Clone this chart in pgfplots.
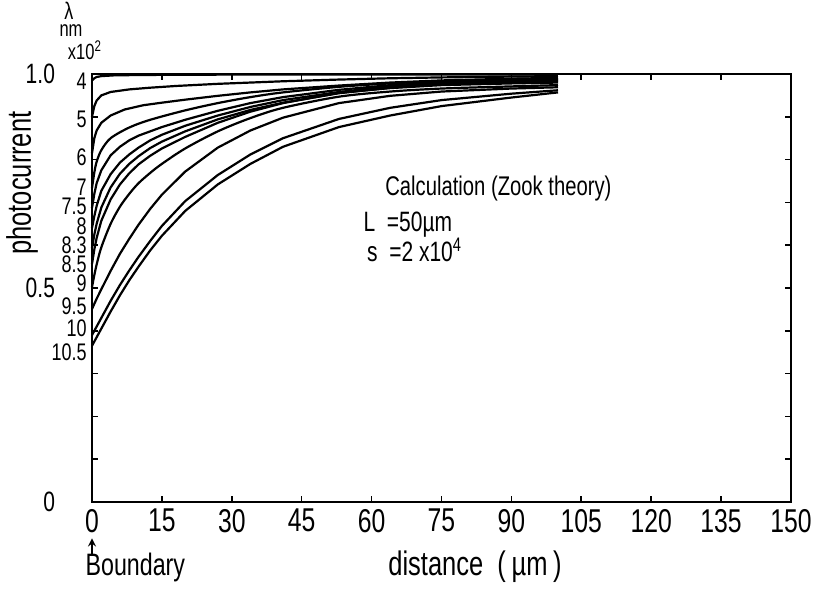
\documentclass[border=0pt]{standalone}
\usepackage{fontspec}
\setmainfont{Liberation Sans}[FakeStretch=0.75]
\usepackage{pgfplots}
\pgfplotsset{compat=1.18}
\tikzset{lam/.style={anchor=east, inner sep=0pt, xshift=-2.5pt, font=\fontsize{12}{12}\selectfont}}
\begin{document}
\begin{tikzpicture}
\begin{axis}[
  at={(0,0)}, anchor=south west,
  scale only axis, width=349.5pt, height=214pt,
  xmin=0, xmax=150, ymin=0, ymax=1,
  xtick={0,15,...,150},
  ytick={0,0.5,1}, yticklabels={0,0.5,1.0},
  minor y tick num=4,
  tick align=inside,
  axis line style={line width=1.2pt},
  major tick length=3pt, minor tick length=3pt,
  every tick/.style={black, line width=0.8pt},
  /pgf/number format/assume math mode=true,
  x tick label style={font=\fontsize{16.5}{16.5}\selectfont},
  y tick label style={font=\fontsize{14}{14}\selectfont, xshift=-15pt},
  clip=false,
  cycle list={{black, solid, mark=none, smooth, tension=0.5}},
  every axis plot post/.style={line width=1.1pt},
]
% lambda = 4
\addplot coordinates {(0,0.985)(0.5,0.99)(1,0.993)(2,0.995)(5,0.997)(15,0.998)(40,0.999)(100,0.999)};
% lambda = 5
\addplot coordinates {(0,0.90)(0.5,0.925)(1,0.938)(2,0.95)(4,0.958)(8,0.964)(12.5,0.968)(18,0.972)(27,0.977)(41,0.983)(53,0.987)(64,0.99)(75,0.992)(90,0.994)(100,0.995)};
% lambda = 6
\addplot coordinates {(0,0.815)(0.5,0.85)(1,0.868)(2,0.886)(4,0.903)(7,0.917)(11,0.927)(15,0.933)(20,0.94)(27,0.949)(34,0.957)(41,0.964)(53,0.973)(64,0.98)(75,0.985)(90,0.989)(100,0.991)};
% lambda = 7
\addplot coordinates {(0,0.733)(0.5,0.77)(1,0.795)(2,0.822)(4,0.85)(8,0.875)(12.5,0.893)(20,0.915)(27,0.932)(34,0.946)(41,0.957)(53,0.97)(64,0.978)(75,0.983)(90,0.987)(100,0.989)};
% lambda = 7.5
\addplot coordinates {(0,0.687)(0.5,0.72)(1,0.745)(2,0.775)(4,0.81)(6,0.83)(8,0.845)(10,0.856)(12.5,0.866)(15,0.876)(20,0.893)(27,0.914)(34,0.932)(41,0.946)(53,0.963)(64,0.974)(75,0.98)(90,0.985)(100,0.987)};
% lambda = 8
\addplot coordinates {(0,0.64)(0.5,0.668)(1,0.692)(2,0.727)(4,0.766)(6,0.793)(8,0.812)(10,0.828)(12.5,0.845)(15,0.858)(20,0.879)(27,0.903)(34,0.923)(41,0.939)(53,0.958)(64,0.971)(75,0.978)(90,0.983)(100,0.985)};
% lambda = 8.3
\addplot coordinates {(0,0.593)(0.5,0.625)(1,0.65)(2,0.688)(4,0.735)(6,0.767)(8,0.79)(10,0.808)(12.5,0.827)(15,0.842)(20,0.866)(27,0.894)(34,0.916)(41,0.933)(53,0.955)(64,0.968)(75,0.976)(90,0.981)(100,0.983)};
% lambda = 8.5
\addplot coordinates {(0,0.556)(0.5,0.59)(1,0.617)(2,0.657)(4,0.707)(6,0.742)(8,0.768)(10,0.789)(12.5,0.809)(15,0.826)(20,0.853)(27,0.886)(34,0.912)(41,0.932)(53,0.956)(64,0.967)(75,0.974)(90,0.978)(100,0.98)};
% lambda = 9
\addplot coordinates {(0,0.502)(0.5,0.53)(1,0.555)(2,0.595)(4,0.65)(6,0.69)(8,0.72)(10,0.745)(12.5,0.769)(15,0.79)(20,0.826)(27,0.866)(34,0.897)(41,0.921)(53,0.947)(64,0.959)(75,0.966)(90,0.971)(100,0.974)};
% lambda = 9.5
\addplot coordinates {(0,0.451)(1,0.475)(2,0.497)(4,0.54)(6,0.58)(8,0.615)(10,0.648)(12.5,0.685)(15,0.718)(20,0.772)(27,0.828)(34,0.868)(41,0.898)(53,0.932)(64,0.949)(75,0.959)(90,0.966)(100,0.969)};
% lambda = 10
\addplot coordinates {(0,0.39)(2,0.43)(4,0.47)(6,0.507)(8,0.541)(10,0.573)(12.5,0.61)(15,0.645)(20,0.703)(27,0.764)(34,0.812)(41,0.85)(53,0.895)(64,0.921)(75,0.939)(90,0.954)(100,0.962)};
% lambda = 10.5
\addplot coordinates {(0,0.365)(2,0.405)(4,0.445)(6,0.483)(8,0.518)(10,0.55)(12.5,0.588)(15,0.622)(20,0.68)(27,0.742)(34,0.79)(41,0.83)(53,0.876)(64,0.903)(75,0.925)(90,0.945)(100,0.957)};

% wavelength labels
\node[lam] at (axis cs:0,0.984) {4};
\node[lam] at (axis cs:0,0.893) {5};
\node[lam] at (axis cs:0,0.806) {6};
\node[lam] at (axis cs:0,0.736) {7};
\node[lam] at (axis cs:0,0.690) {7.5};
\node[lam] at (axis cs:0,0.645) {8};
\node[lam] at (axis cs:0,0.599) {8.3};
\node[lam] at (axis cs:0,0.555) {8.5};
\node[lam] at (axis cs:0,0.510) {9};
\node[lam] at (axis cs:0,0.458) {9.5};
\node[lam] at (axis cs:0,0.407) {10};
\node[lam] at (axis cs:0,0.350) {10.5};
% header of wavelength column
\node[font=\fontsize{12}{12}\selectfont, inner sep=0pt] at (rel axis cs:-0.033,1.148) {λ};
\node[font=\fontsize{11}{11}\selectfont, inner sep=0pt] at (rel axis cs:-0.030,1.102) {nm};
\node[font=\fontsize{11}{11}\selectfont, inner sep=0pt] at (rel axis cs:-0.010,1.055) {x10\textsuperscript{2}};
% axis titles
\node[rotate=90, font=\fontsize{17}{17}\selectfont] at (rel axis cs:-0.100,0.745) {photocurrent};
\node[font=\fontsize{17}{17}\selectfont] at (rel axis cs:0.548,-0.152) {distance \ (\,µm\,)};
\node[font=\fontsize{15.5}{15.5}\selectfont] at (rel axis cs:0.062,-0.152) {Boundary};
\draw[-stealth, line width=0.8pt] (rel axis cs:0,-0.125) -- (rel axis cs:0,-0.085);
% annotation
\node[anchor=base west, font=\fontsize{13.5}{13.5}\selectfont, inner sep=0pt] at (rel axis cs:0.419,0.715) {Calculation (Zook theory)};
\node[anchor=base west, font=\fontsize{14}{14}\selectfont, inner sep=0pt] at (rel axis cs:0.388,0.632) {L \ =50µm};
\node[anchor=base west, font=\fontsize{14}{14}\selectfont, inner sep=0pt] at (rel axis cs:0.393,0.562) {s \ =2 x10\textsuperscript{4}};
\end{axis}
\pgfresetboundingbox
\path (0,0) ++(-46pt,-43.5pt) rectangle (364pt,251pt);
\end{tikzpicture}
\end{document}
